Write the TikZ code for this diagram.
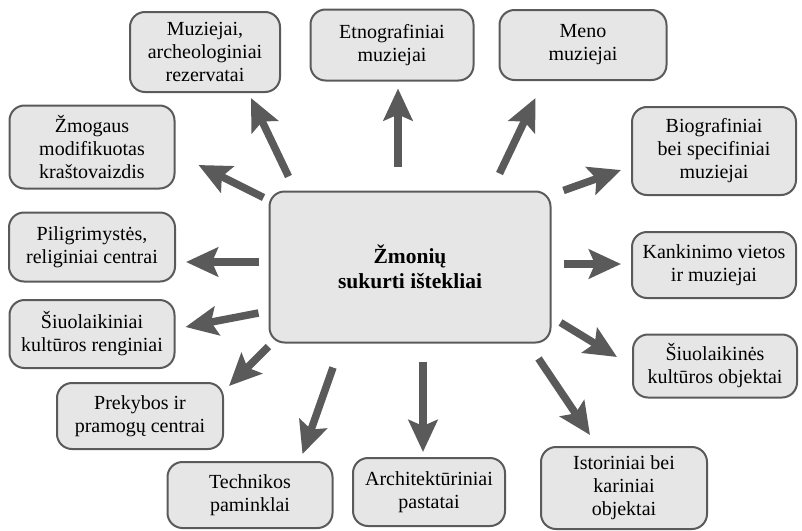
\documentclass[tikz,border=0pt]{standalone}
\usepackage[dvipsnames]{xcolor}
\usepackage{fontspec}
\setmainfont{Liberation Serif}
\usepackage{tikz}
\usetikzlibrary{arrows.meta,bending}

\definecolor{boxgray}{HTML}{E6E6E7}
\definecolor{edgegray}{HTML}{5A5A5A}

\begin{document}
\begin{tikzpicture}[x=1pt,y=-1pt,
    box/.style={draw=edgegray,fill=boxgray,line width=2pt,rounded corners=15pt,
      align=center,inner sep=0pt,font=\fontsize{20}{23}\selectfont},
    arr/.style={draw=edgegray,line width=7.5pt,
      -{Stealth[length=32pt,width=29pt,inset=6pt]}}]
  \useasboundingbox (0,0) rectangle (802,530);
  \node[box,minimum width=281pt,minimum height=151pt,font=\fontsize{21.5}{25}\bfseries] (hub) at (410,267) {Žmonių\\sukurti ištekliai};
  \node[box,minimum width=150pt,minimum height=80pt] (muz) at (205,52) {Muziejai,\\archeologiniai\\rezervatai};
  \node[box,minimum width=163pt,minimum height=71pt] (etn) at (392,45) {Etnografiniai\\muziejai};
  \node[box,minimum width=167pt,minimum height=70pt] (men) at (583,45) {Meno\\muziejai};
  \node[box,minimum width=164pt,minimum height=88pt] (bio) at (714,151) {Biografiniai\\bei specifiniai\\muziejai};
  \node[box,minimum width=164pt,minimum height=66pt] (kan) at (714,265) {Kankinimo vietos\\ir muziejai};
  \node[box,minimum width=164pt,minimum height=63pt] (siu) at (715,366) {Šiuolaikinės\\kultūros objektai};
  \node[box,minimum width=166pt,minimum height=82pt] (ist) at (624,488) {Istoriniai bei\\kariniai\\objektai};
  \node[box,minimum width=152pt,minimum height=68pt] (arc) at (429,492) {Architektūriniai\\pastatai};
  \node[box,minimum width=165pt,minimum height=66pt] (tec) at (250,495) {Technikos\\paminklai};
  \node[box,minimum width=166pt,minimum height=66pt] (pre) at (140,416) {Prekybos ir\\pramogų centrai};
  \node[box,minimum width=165pt,minimum height=68pt] (ren) at (92,334) {Šiuolaikiniai\\kultūros renginiai};
  \node[box,minimum width=166pt,minimum height=69pt] (pil) at (92,247) {Piligrimystės,\\religiniai centrai};
  \node[box,minimum width=165pt,minimum height=83pt] (zmo) at (92,147) {Žmogaus\\modifikuotas\\kraštovaizdis};
  % arrows out of the hub
  \draw[arr] ([shift={(20,-14)}]hub.north west) -- ([shift={(-30,5)}]muz.south east);
  \draw[arr] ([shift={(-12,-24)}]hub.north) -- ([shift={(6,7)}]etn.south);
  \draw[arr] ([shift={(-52,-17)}]hub.north east) -- ([shift={(37,17)}]men.south west);
  \draw[arr] ([shift={(12,0)}]hub.north east) -- ([shift={(-10,19)}]bio.west);
  \draw[arr] ([shift={(12,-3)}]hub.east) -- ([shift={(-10,-1)}]kan.west);
  \draw[arr] ([shift={(9,-21)}]hub.south east) -- ([shift={(-15,-9)}]siu.west);
  \draw[arr] ([shift={(-13,15)}]hub.south east) -- ([shift={(-34,-11)}]ist.north);
  \draw[arr] ([shift={(13,18)}]hub.south) -- ([shift={(-6,-5)}]arc.north);
  \draw[arr] ([shift={(-77,24)}]hub.south) -- ([shift={(-31,-7)}]tec.north east);
  \draw[arr] ([shift={(0,3)}]hub.south west) -- ([shift={(5,4)}]pre.north east);
  \draw[arr] ([shift={(-10,46)}]hub.west) -- ([shift={(10,-7)}]ren.east);
  \draw[arr] ([shift={(-10,-5)}]hub.west) -- ([shift={(10,15)}]pil.east);
  \draw[arr] ([shift={(-5,7)}]hub.north west) -- ([shift={(23,18)}]zmo.east);
\end{tikzpicture}
\end{document}
